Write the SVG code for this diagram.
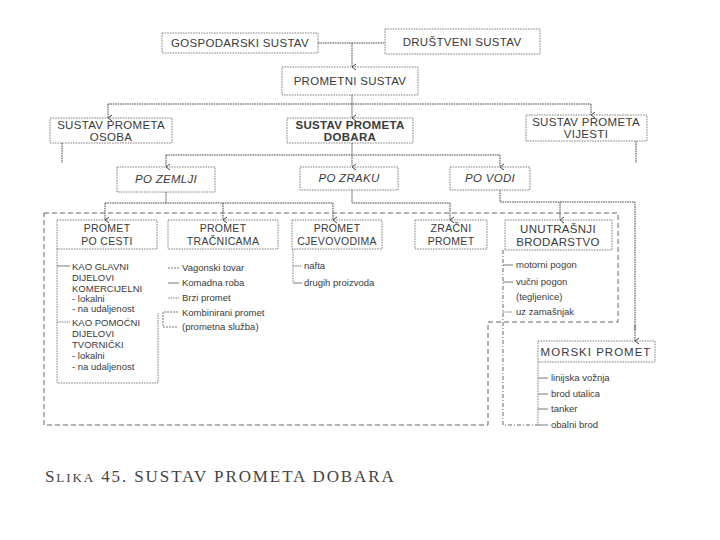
<svg xmlns="http://www.w3.org/2000/svg" width="720" height="540" viewBox="0 0 720 540">
<defs>
<marker id="arr" markerWidth="8" markerHeight="8" refX="4" refY="7" orient="auto" markerUnits="userSpaceOnUse" viewBox="0 0 8 8">
<path d="M1,3 L4,7 L7,3" fill="none" stroke="#333" stroke-width="0.9"/>
</marker>
<style>
.box{fill:none;stroke:#666;stroke-width:0.8;stroke-dasharray:1.6 1}
.conn{fill:none;stroke:#333;stroke-width:0.9;stroke-dasharray:1.6 0.8}
.arrow{fill:none;stroke:#333;stroke-width:0.9;stroke-dasharray:1.6 0.8;marker-end:url(#arr)}
.frame{fill:none;stroke:#555;stroke-width:0.9;stroke-dasharray:5 3}
.dd{fill:none;stroke:#555;stroke-width:0.9;stroke-dasharray:4 2 1 2}
.tick{fill:none;stroke:#555;stroke-width:0.8}
text{font-family:"Liberation Sans",Arial,sans-serif;fill:#3a3a3a}
.l{font-size:11.5px;text-anchor:middle;letter-spacing:0.3px}
.b{font-weight:bold}
.i{font-style:italic}
.m{font-size:10.5px;text-anchor:middle;letter-spacing:0.3px}
.s{font-size:9.5px}
.cap{font-family:"Liberation Serif","Times New Roman",serif;font-size:17px;letter-spacing:1.9px;fill:#444}
</style>
</defs>
<rect width="720" height="540" fill="#fff"/>

<g id="connectors">
<line class="conn" x1="318" y1="43" x2="385" y2="43"/>
<line class="arrow" x1="352" y1="43" x2="352" y2="67"/>
<line class="conn" x1="352" y1="95" x2="352" y2="104"/>
<line class="conn" x1="108" y1="104" x2="591" y2="104"/>
<line class="arrow" x1="108" y1="104" x2="108" y2="118"/>
<line class="arrow" x1="352" y1="104" x2="352" y2="118"/>
<line class="arrow" x1="591" y1="104" x2="591" y2="115"/>
<line class="conn" x1="62" y1="143" x2="62" y2="163"/>
<line class="conn" x1="636" y1="141" x2="636" y2="163"/>
<line class="conn" x1="352" y1="143" x2="352" y2="155"/>
<line class="conn" x1="166" y1="155" x2="500" y2="155"/>
<line class="arrow" x1="166" y1="155" x2="166" y2="167"/>
<line class="arrow" x1="352" y1="155" x2="352" y2="167"/>
<line class="arrow" x1="500" y1="155" x2="500" y2="167"/>
<line class="conn" x1="166" y1="192" x2="166" y2="203"/>
<line class="conn" x1="105" y1="203" x2="333" y2="203"/>
<line class="arrow" x1="105" y1="203" x2="105" y2="220"/>
<line class="arrow" x1="223" y1="203" x2="223" y2="220"/>
<line class="arrow" x1="333" y1="203" x2="333" y2="220"/>
<path class="conn" d="M352,190 V203 H450"/>
<line class="arrow" x1="450" y1="203" x2="450" y2="220"/>
<path class="conn" d="M500,190 V202 H635 V330"/>
<line class="arrow" x1="635" y1="325" x2="635" y2="341"/>
<line class="arrow" x1="560" y1="202" x2="560" y2="220"/>
<path class="frame" d="M44,213 H618 V322 H488 V425 H44 Z"/>
<path class="box" d="M57,249 V383 H158 V313"/>
<line class="tick" x1="57" y1="266" x2="70" y2="266"/>
<line class="tick" x1="57" y1="322" x2="70" y2="322" stroke-dasharray="1.5 1"/>
<line class="tick" x1="168" y1="268" x2="179" y2="268" stroke-dasharray="2 1"/>
<line class="tick" x1="168" y1="283" x2="179" y2="283"/>
<line class="tick" x1="168" y1="298" x2="179" y2="298" stroke-dasharray="1.5 1"/>
<path class="tick" d="M178,312 H163 V327 H178" stroke-dasharray="2 1"/>
<path class="box" d="M293,249 V283"/>
<line class="tick" x1="293" y1="266" x2="302" y2="266" stroke-dasharray="1.5 0.8"/>
<line class="tick" x1="293" y1="283" x2="302" y2="283"/>
<path class="dd" d="M503,250 V425 H538"/>
<line class="tick" x1="503" y1="265" x2="513" y2="265"/>
<line class="tick" x1="503" y1="282" x2="513" y2="282"/>
<line class="tick" x1="503" y1="312" x2="513" y2="312" stroke-dasharray="1.5 1"/>
<path class="box" d="M538,362 V425"/>
<line class="tick" x1="538" y1="378" x2="548" y2="378"/>
<line class="tick" x1="538" y1="394" x2="548" y2="394"/>
<line class="tick" x1="538" y1="409" x2="548" y2="409"/>
<line class="tick" x1="538" y1="425" x2="548" y2="425"/>
</g>

<g id="gospodarski">
<rect class="box" x="162" y="33" width="156" height="20"/>
<text class="l" x="240" y="47">GOSPODARSKI SUSTAV</text>
</g>
<g id="drustveni">
<rect class="box" x="385" y="29" width="155" height="25"/>
<text class="l" x="462" y="46">DRUŠTVENI SUSTAV</text>
</g>
<g id="prometni">
<rect class="box" x="282" y="67" width="136" height="28"/>
<text class="l" x="350" y="85">PROMETNI SUSTAV</text>
</g>
<g id="osoba">
<rect class="box" x="50" y="118" width="122" height="25"/>
<text class="l" x="111" y="129">SUSTAV PROMETA</text>
<text class="l" x="111" y="141">OSOBA</text>
</g>
<g id="dobara">
<rect class="box" x="287" y="118" width="126" height="25"/>
<text class="l b" x="350" y="129">SUSTAV PROMETA</text>
<text class="l b" x="350" y="141">DOBARA</text>
</g>
<g id="vijesti">
<rect class="box" x="526" y="115" width="121" height="26"/>
<text class="l" x="586" y="126">SUSTAV PROMETA</text>
<text class="l" x="586" y="138">VIJESTI</text>
</g>
<g id="zemlji">
<rect class="box" x="117" y="167" width="98" height="25"/>
<text class="l i" x="166" y="183">PO ZEMLJI</text>
</g>
<g id="zraku">
<rect class="box" x="300" y="167" width="98" height="23"/>
<text class="l i" x="349" y="182">PO ZRAKU</text>
</g>
<g id="vodi">
<rect class="box" x="450" y="167" width="80" height="23"/>
<text class="l i" x="490" y="182">PO VODI</text>
</g>
<g id="cesti">
<rect class="box" x="57" y="220" width="100" height="29"/>
<text class="m" x="107" y="232">PROMET</text>
<text class="m" x="107" y="245">PO CESTI</text>
<g class="s">
<text x="72" y="270">KAO GLAVNI</text>
<text x="72" y="281">DIJELOVI</text>
<text x="72" y="292">KOMERCIJELNI</text>
<text x="72" y="302">- lokalni</text>
<text x="72" y="312">- na udaljenost</text>
<text x="72" y="326">KAO POMOĆNI</text>
<text x="72" y="337">DIJELOVI</text>
<text x="72" y="348">TVORNIČKI</text>
<text x="72" y="359">- lokalni</text>
<text x="72" y="370">- na udaljenost</text>
</g>
</g>
<g id="tracnicama">
<rect class="box" x="168" y="220" width="110" height="29"/>
<text class="m" x="223" y="232">PROMET</text>
<text class="m" x="223" y="245">TRAČNICAMA</text>
<g class="s">
<text x="182" y="271">Vagonski tovar</text>
<text x="182" y="286">Komadna roba</text>
<text x="182" y="301">Brzi promet</text>
<text x="182" y="316">Kombinirani promet</text>
<text x="182" y="330">(prometna služba)</text>
</g>
</g>
<g id="cjevovodima">
<rect class="box" x="292" y="220" width="90" height="29"/>
<text class="m" x="337" y="232">PROMET</text>
<text class="m" x="337" y="245">CJEVOVODIMA</text>
<g class="s">
<text x="304" y="269">nafta</text>
<text x="304" y="286">drugih proizvoda</text>
</g>
</g>
<g id="zracni">
<rect class="box" x="415" y="220" width="72" height="29"/>
<text class="m" x="451" y="232">ZRAČNI</text>
<text class="m" x="451" y="245">PROMET</text>
</g>
<g id="unutrasnji">
<rect class="box" x="505" y="220" width="107" height="30"/>
<text class="l" x="558" y="233">UNUTRAŠNJI</text>
<text class="l" x="558" y="246">BRODARSTVO</text>
<g class="s">
<text x="516" y="268">motorni pogon</text>
<text x="516" y="285">vučni pogon</text>
<text x="516" y="300">(tegljenice)</text>
<text x="516" y="315">uz zamašnjak</text>
</g>
</g>
<g id="morski">
<rect class="box" x="538" y="341" width="117" height="21"/>
<text class="l" x="596" y="356" style="letter-spacing:1px">MORSKI PROMET</text>
<g class="s">
<text x="551" y="381">linijska vožnja</text>
<text x="551" y="397">brod utalica</text>
<text x="551" y="412">tanker</text>
<text x="551" y="428">obalni brod</text>
</g>
</g>
<g id="caption">
<text class="cap" x="45" y="482">S<tspan font-size="13">LIKA</tspan> 45. SUSTAV PROMETA DOBARA</text>
</g>
</svg>
